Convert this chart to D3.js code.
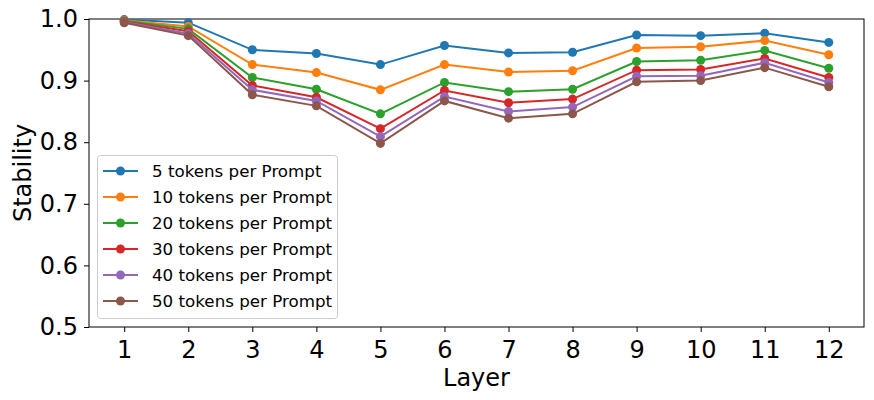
<!DOCTYPE html>
<html>
<head>
<meta charset="utf-8">
<script src="https://cdn.jsdelivr.net/npm/d3@7"></script>
<style>
  body { margin: 0; background: #fff; }
  svg { display: block; font-family: "DejaVu Sans", sans-serif; }
</style>
</head>
<body>
<div id="chart"></div>
<script>
// data
const layers = [1, 2, 3, 4, 5, 6, 7, 8, 9, 10, 11, 12];
const seriesNames = ["5 tokens per Prompt", "10 tokens per Prompt", "20 tokens per Prompt",
                     "30 tokens per Prompt", "40 tokens per Prompt", "50 tokens per Prompt"];
const tokens5  = [0.999, 0.994, 0.950, 0.944, 0.926, 0.957, 0.945, 0.946, 0.974, 0.973, 0.977, 0.962];
const tokens10 = [0.998, 0.988, 0.926, 0.913, 0.885, 0.926, 0.914, 0.916, 0.953, 0.955, 0.965, 0.942];
const tokens20 = [0.997, 0.984, 0.905, 0.886, 0.846, 0.897, 0.882, 0.886, 0.931, 0.933, 0.949, 0.920];
const tokens30 = [0.996, 0.980, 0.892, 0.873, 0.822, 0.884, 0.864, 0.870, 0.917, 0.918, 0.936, 0.905];
const tokens40 = [0.995, 0.976, 0.885, 0.867, 0.809, 0.874, 0.850, 0.857, 0.907, 0.908, 0.929, 0.897];
const tokens50 = [0.994, 0.973, 0.877, 0.859, 0.798, 0.867, 0.839, 0.846, 0.898, 0.900, 0.921, 0.890];
const yTicks = [0.5, 0.6, 0.7, 0.8, 0.9, 1.0];
const colors = ["#1f77b4", "#ff7f0e", "#2ca02c", "#d62728", "#9467bd", "#8c564b"];

const allSeries = [tokens5, tokens10, tokens20, tokens30, tokens40, tokens50];

const width = 874, height = 400;
const margin = { top: 19, right: 10, bottom: 73, left: 89 };
const innerW = width - margin.left - margin.right;
const innerH = height - margin.top - margin.bottom;

const svg = d3.select("#chart").append("svg")
    .attr("width", width)
    .attr("height", height);

const g = svg.append("g")
    .attr("transform", `translate(${margin.left},${margin.top})`);

// matplotlib-style 5% margin on x
const x = d3.scaleLinear().domain([0.45, 12.55]).range([0, innerW]);
const y = d3.scaleLinear().domain([0.5, 1.0]).range([innerH, 0]);

// axes
const xAxis = g.append("g")
    .attr("transform", `translate(0,${innerH})`)
    .call(d3.axisBottom(x).tickValues(layers).tickFormat(d3.format("d")).tickSize(5).tickPadding(6));
const yAxis = g.append("g")
    .call(d3.axisLeft(y).tickValues(yTicks).tickFormat(d3.format(".1f")).tickSize(5).tickPadding(6));

[xAxis, yAxis].forEach(a => {
    a.select(".domain").remove();
    a.selectAll("line").attr("stroke", "#000").attr("stroke-width", 1);
    a.selectAll("text").attr("font-size", 24).attr("fill", "#000")
        .attr("font-family", "DejaVu Sans, sans-serif");
});
xAxis.selectAll("text").attr("dy", "0.85em");

// frame
g.append("rect")
    .attr("x", 0).attr("y", 0)
    .attr("width", innerW).attr("height", innerH)
    .attr("fill", "none").attr("stroke", "#000").attr("stroke-width", 1);

// axis labels
svg.append("text")
    .attr("x", margin.left + innerW / 2)
    .attr("y", 386)
    .attr("text-anchor", "middle")
    .attr("font-size", 24)
    .text("Layer");

svg.append("text")
    .attr("transform", `translate(31,${margin.top + innerH / 2}) rotate(-90)`)
    .attr("text-anchor", "middle")
    .attr("font-size", 24)
    .text("Stability");

// lines + markers
const line = d3.line()
    .x((d, i) => x(layers[i]))
    .y(d => y(d));

allSeries.forEach((vals, s) => {
    g.append("path")
        .datum(vals)
        .attr("fill", "none")
        .attr("stroke", colors[s])
        .attr("stroke-width", 2)
        .attr("d", line);
    g.selectAll(".pt" + s)
        .data(vals)
        .enter()
        .append("circle")
        .attr("cx", (d, i) => x(layers[i]))
        .attr("cy", d => y(d))
        .attr("r", 4.5)
        .attr("fill", colors[s]);
});

// legend
const legend = svg.append("g").attr("transform", "translate(97,155)");
legend.append("rect")
    .attr("x", 0.5).attr("y", 0.5)
    .attr("width", 240).attr("height", 163)
    .attr("rx", 3)
    .attr("fill", "#fff").attr("fill-opacity", 0.8)
    .attr("stroke", "#ccc");

seriesNames.forEach((name, i) => {
    const row = legend.append("g").attr("transform", `translate(0,${16 + i * 26})`);
    row.append("line")
        .attr("x1", 6).attr("x2", 41)
        .attr("stroke", colors[i]).attr("stroke-width", 2);
    row.append("circle")
        .attr("cx", 23.5).attr("r", 4.5)
        .attr("fill", colors[i]);
    row.append("text")
        .attr("x", 55)
        .attr("dy", "0.35em")
        .attr("font-size", 16.7)
        .attr("fill", "#000")
        .text(name);
});
</script>
</body>
</html>
